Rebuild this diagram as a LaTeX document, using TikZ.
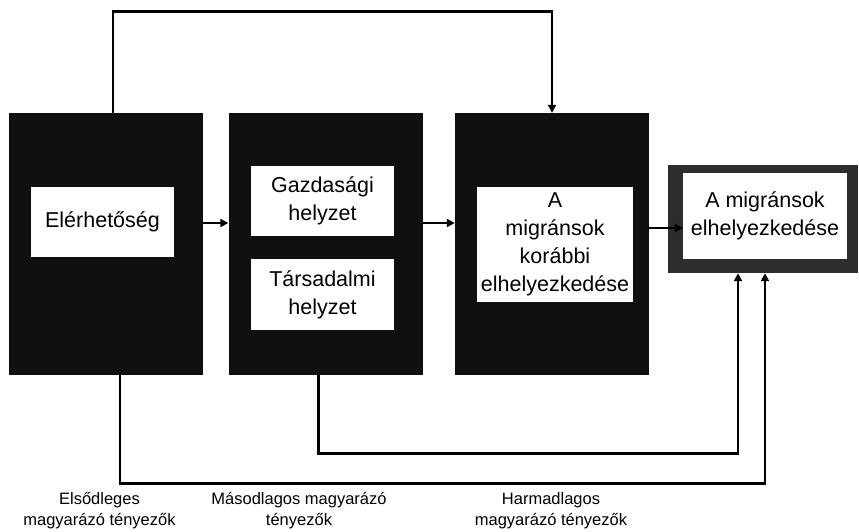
\documentclass[tikz,border=0pt]{standalone}
\usepackage{fontspec}
\setmainfont{Liberation Sans}
\usetikzlibrary{arrows.meta}
\definecolor{blockfill}{HTML}{101010}
\definecolor{framefill}{HTML}{2D2D2D}
\begin{document}
\begin{tikzpicture}[x=1pt,y=-1pt,
  block/.style={fill=blockfill,minimum width=194pt,minimum height=262pt,inner sep=0pt},
  inbox/.style={fill=white,align=center,inner sep=0pt,font=\fontsize{21.5}{28}\selectfont},
  conn/.style={line width=2.8pt,-{Triangle[length=8pt,width=8pt]}},
  note/.style={align=center,font=\fontsize{16.5}{21}\selectfont}]
\useasboundingbox (0,0) rectangle (859,531);

% the three dark blocks
\node[block] (blk1) at (106,244) {};
\node[block] (blk2) at (325.5,244) {};
\node[block] (blk3) at (552,244) {};
\node[fill=framefill,minimum width=190pt,minimum height=108pt,inner sep=0pt] (blk4) at (763,219) {};

% white boxes with the texts
\node[inbox,minimum width=143pt,minimum height=70pt] (acc) at (102.5,222) {Elérhetőség};
\node[inbox,minimum width=143pt,minimum height=70pt] (gaz) at (322.5,201) {Gazdasági\\helyzet};
\node[inbox,minimum width=143pt,minimum height=71pt] (tars) at (322.5,294.5) {Társadalmi\\helyzet};
\node[inbox,minimum width=156pt,minimum height=115pt] (prev) at (555,244.5) {A\\migránsok\\korábbi\\elhelyezkedése};
\node[inbox,minimum width=164pt,minimum height=86pt] (inn4) at (765,216) {A migránsok\\elhelyezkedése};

% arrows between the blocks
\draw[conn] ([yshift=21pt]blk1.east) -- ([yshift=21pt]blk2.west);
\draw[conn] ([yshift=21pt]blk2.east) -- ([yshift=21pt]blk3.west);
\draw[conn] ([yshift=16pt]blk3.east) -- ([yshift=16pt]blk3.east -| inn4.west);

% long connectors
\draw[conn] ([xshift=7pt]blk1.north) -- ++(0,-101) -| (blk3.north);
\draw[conn] ([xshift=-7pt]blk2.south) -- ++(0,78) -| ([xshift=-25pt]blk4.south);
\draw[conn] ([xshift=14pt]blk1.south) -- ++(0,108) -| ([xshift=2pt]blk4.south);

% level labels
\node[note] (lev1) at (99.5,510.5) {Elsődleges\\magyarázó tényezők};
\node[note] (lev2) at (299,510.5) {Másodlagos magyarázó\\tényezők};
\node[note] (lev3) at (551,510.5) {Harmadlagos\\magyarázó tényezők};
\end{tikzpicture}
\end{document}
